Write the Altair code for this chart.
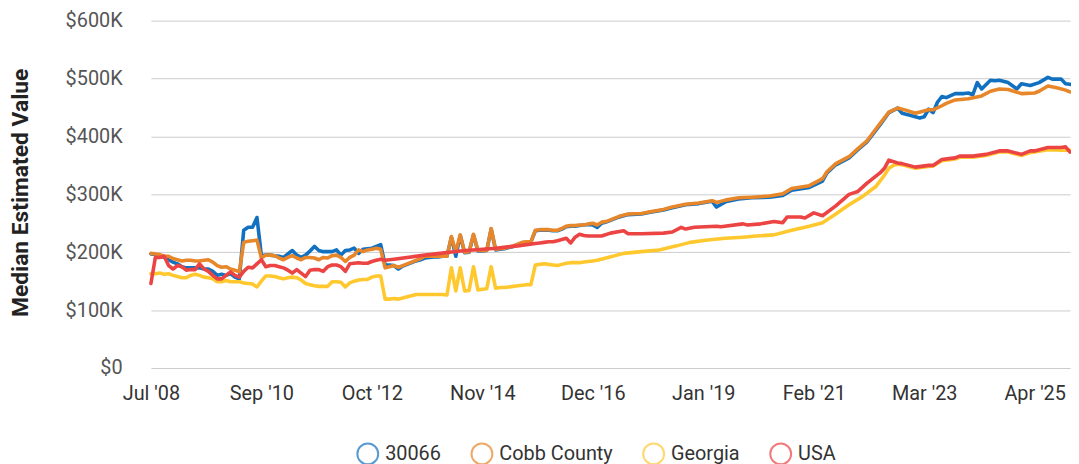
import json
import altair as alt
import pandas as pd

# ---- axis labels ----
x_label_idx = [0, 25, 50, 75, 100, 125, 150, 175, 200]
x_labels = ["Jul '08", "Sep '10", "Oct '12", "Nov '14", "Dec '16",
            "Jan '19", "Feb '21", "Mar '23", "Apr '25"]
y_ticks_k = [0, 100, 200, 300, 400, 500, 600]

series_names = ["30066", "Cobb County", "Georgia", "USA"]
series_colors = ["#1270c0", "#e8862a", "#fec82e", "#ec4343"]

# ---- 30066 (values in $K, x = month index) ----
zip_idx = list(range(0, 104)) + [106, 108, 111, 113, 116, 118, 121, 124, 127, 128,
                                  130, 133, 136, 140, 143, 145, 149, 152, 153, 155,
                                  158, 160, 162, 163, 165, 167, 169, 170, 172, 174,
                                  175, 176, 177, 178, 179, 180, 182, 184, 185, 186,
                                  187, 188, 190, 191, 192, 194, 196, 197, 199, 201,
                                  203, 204, 206, 207, 208]
zip_val = [197, 196, 194, 191, 187, 183, 180, 175, 173, 173,
           173, 173, 171, 171, 167, 160, 162, 160, 163, 157,
           154, 238, 243, 243, 260, 194, 195, 195, 194, 193,
           191, 197, 203, 195, 191, 195, 202, 210, 203, 201,
           201, 201, 204, 195, 203, 204, 207, 198, 205, 206,
           207, 210, 213, 178, 178, 177, 171, 176, 179, 182,
           185, 187, 190, 191, 192, 192, 193, 193, 226, 193,
           229, 199, 200, 230, 202, 202, 203, 240, 204, 205,
           206, 208, 210, 213, 216, 217, 218, 237, 238, 238,
           238, 237, 237, 240, 244, 245, 245, 246, 247, 248,
           247, 243, 250, 252,
           261, 265, 266, 269, 273, 277, 282, 284, 288, 278,
           287, 292, 294, 295, 298, 307, 312, 323, 337, 351,
           363, 377, 390, 400, 420, 441, 449, 440, 436, 432,
           434, 447, 441, 459, 469, 467, 474, 474, 475, 472,
           493, 482, 497, 496, 497, 493, 482, 491, 488, 493,
           502, 499, 499, 491, 490]

# ---- Cobb County ----
cobb_idx = list(range(0, 104)) + [106, 108, 111, 113, 116, 118, 121, 124, 127, 128,
                                   130, 133, 136, 140, 143, 145, 149, 152, 153, 155,
                                   158, 160, 162, 163, 165, 167, 169, 171, 173, 176,
                                   177, 179, 180, 182, 185, 188, 190, 192, 194, 197,
                                   200, 201, 203, 205, 207, 208]
cobb_val = [198, 197, 196, 193, 193, 189, 187, 185, 186, 186,
            185, 185, 186, 187, 183, 177, 174, 175, 171, 169,
            166, 217, 219, 220, 221, 190, 195, 195, 194, 190,
            187, 191, 194, 190, 187, 191, 191, 190, 187, 191,
            190, 194, 195, 191, 184, 191, 195, 204, 201, 204,
            205, 207, 205, 173, 175, 177, 174, 177, 180, 183,
            186, 189, 193, 193, 193, 193, 193, 193, 227, 201,
            230, 200, 201, 231, 203, 203, 203, 241, 205, 206,
            207, 209, 211, 214, 217, 218, 218, 238, 239, 239,
            239, 238, 238, 241, 245, 246, 246, 247, 247, 249,
            250, 247, 252, 253,
            262, 266, 267, 270, 274, 278, 283, 285, 289, 286,
            290, 294, 295, 297, 301, 310, 315, 327, 339, 353,
            365, 379, 392, 402, 422, 442, 449, 445, 440, 446,
            446, 453, 457, 463, 465, 470, 478, 482, 481, 474,
            475, 478, 487, 484, 480, 477]

# ---- Georgia ----
ga_idx = list(range(0, 102)) + [103, 107, 111, 115, 119, 122, 126, 130, 134, 137,
                                 141, 145, 149, 152, 155, 158, 161, 164, 166, 167,
                                 168, 169, 170, 173, 176, 177, 179, 182, 183, 186,
                                 189, 192, 194, 197, 199, 200, 203, 206, 208]
ga_val = [163, 163, 164, 162, 163, 160, 158, 156, 156, 160,
          162, 160, 157, 156, 154, 149, 149, 151, 149, 149,
          149, 147, 146, 145, 140, 150, 159, 159, 158, 156,
          154, 156, 157, 156, 152, 146, 144, 142, 141, 141,
          141, 149, 149, 148, 140, 147, 150, 152, 153, 153,
          157, 159, 159, 119, 119, 120, 119, 121, 123, 125,
          127, 127, 127, 127, 127, 127, 127, 126, 173, 133,
          173, 133, 134, 175, 135, 136, 137, 175, 138, 139,
          139, 140, 141, 142, 143, 144, 144, 178, 179, 180,
          179, 178, 177, 179, 181, 182, 182, 182, 183, 184,
          185, 186,
          190, 198, 201, 204, 211, 217, 221, 224, 226, 228,
          230, 238, 245, 251, 266, 282, 296, 313, 333, 345,
          350, 352, 351, 345, 348, 349, 358, 361, 364, 364,
          367, 373, 373, 367, 372, 373, 377, 376, 376]

# ---- USA ----
usa_idx = list(range(0, 54)) + [55, 62, 70, 78, 83, 87, 88, 89, 90, 91,
                                 92, 93, 94, 95, 96, 97, 98, 99, 100, 102,
                                 104, 107, 108, 111, 116, 118, 120, 121, 123, 128,
                                 129, 134, 135, 138, 141, 143, 144, 147, 148, 150,
                                 152, 155, 158, 160, 162, 163, 165, 166, 167, 169,
                                 170, 173, 176, 177, 179, 182, 183, 186, 189, 192,
                                 194, 197, 199, 200, 203, 206, 207, 208]
usa_val = [146, 191, 191, 193, 177, 171, 177, 175, 169, 170,
           170, 180, 171, 167, 160, 154, 154, 160, 166, 160,
           157, 167, 174, 173, 180, 187, 175, 177, 177, 175,
           173, 169, 164, 170, 164, 158, 169, 170, 170, 167,
           175, 178, 178, 175, 167, 180, 181, 182, 181, 181,
           184, 186, 188, 186,
           188, 195, 202, 207, 211, 215, 216, 217, 218, 218,
           220, 222, 224, 216, 226, 231, 229, 228, 228, 228,
           233, 237, 232, 232, 233, 235, 243, 240, 243, 245,
           244, 249, 247, 249, 253, 251, 261, 261, 259, 268,
           263, 280, 300, 305, 319, 325, 337, 345, 359, 354,
           353, 347, 350, 350, 360, 363, 366, 366, 369, 375,
           375, 369, 375, 375, 381, 381, 382, 373]

frames = []
for name, xs, ys in [("30066", zip_idx, zip_val), ("Cobb County", cobb_idx, cobb_val),
                     ("Georgia", ga_idx, ga_val), ("USA", usa_idx, usa_val)]:
    assert len(xs) == len(ys), (name, len(xs), len(ys))
    frames.append(pd.DataFrame({"series": name, "idx": xs, "value": ys}))
df = pd.concat(frames, ignore_index=True)

x_label_expr = json.dumps(x_labels) + "[round(datum.value / 25)]"

chart = alt.Chart(df).mark_line(strokeWidth=3.6, strokeJoin="round", strokeCap="round").encode(
    x=alt.X("idx:Q",
            scale=alt.Scale(domain=[0, 208], nice=False, zero=False),
            axis=alt.Axis(values=x_label_idx, labelExpr=x_label_expr, title=None,
                          grid=False, ticks=False, domain=False, labelPadding=16,
                          labelFont="Roboto", labelFontSize=20, labelColor="#333333",
                          labelFlush=False, labelOverlap=False)),
    y=alt.Y("value:Q",
            scale=alt.Scale(domain=[0, 600], nice=False),
            axis=alt.Axis(values=y_ticks_k,
                          labelExpr="datum.value == 0 ? '$0' : '$' + datum.value + 'K'",
                          title="Median Estimated Value", grid=True, gridColor="#cccccc",
                          gridWidth=1, ticks=False, domain=False, labelPadding=29,
                          labelFont="Roboto", labelFontSize=20, labelColor="#555555",
                          titleFont="Roboto", titleFontSize=23, titleFontWeight="bold",
                          titleColor="#222222", titleAngle=270, titleBaseline="bottom",
                          titleAlign="center", titleX=-119, titleY=173)),
    color=alt.Color("series:N",
                    scale=alt.Scale(domain=series_names, range=series_colors),
                    legend=alt.Legend(title=None, orient="none", legendX=207, legendY=425,
                                      direction="horizontal", symbolType="circle",
                                      symbolSize=441, symbolStrokeWidth=2,
                                      symbolFillColor="transparent", symbolOpacity=0.7,
                                      labelFont="Roboto", labelFontSize=20,
                                      labelColor="#333333", labelOffset=6,
                                      columnPadding=26, padding=0)),
).properties(
    width=926, height=350,
    autosize=alt.AutoSizeParams(type="none"),
    padding={"left": 144, "top": 11, "right": 1, "bottom": 100},
).configure_view(strokeWidth=0)

chart.save("out.html", embed_options={"renderer": "svg", "actions": False})
